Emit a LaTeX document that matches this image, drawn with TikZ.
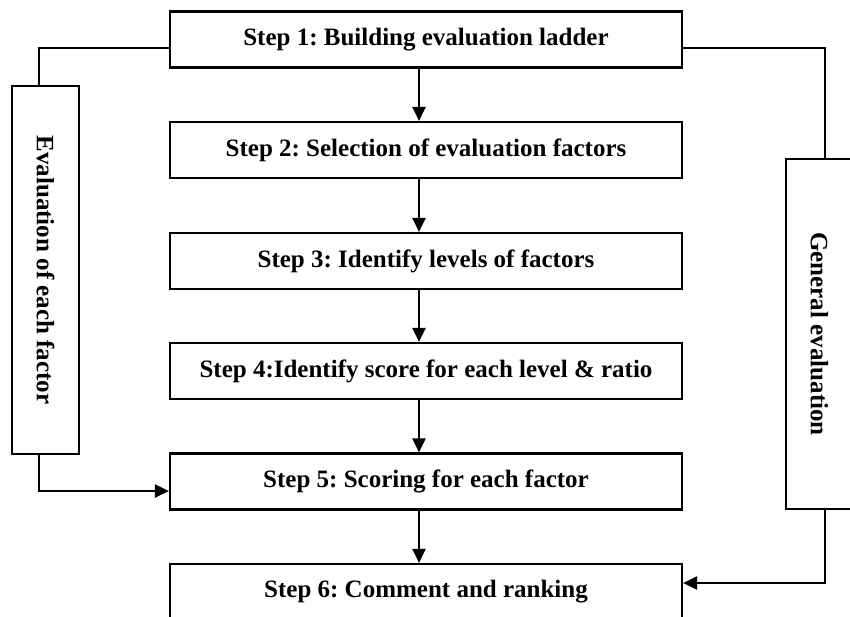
\documentclass[tikz,border=0pt]{standalone}
\usepackage{fontspec}
\setmainfont{Liberation Serif}
\usetikzlibrary{arrows.meta}
\frenchspacing
\begin{document}
\begin{tikzpicture}[x=1pt,y=-1pt,
  txt/.style={font=\bfseries\fontsize{25}{30}\selectfont},
  stepbox/.style={txt,draw,line width=2.2pt,minimum width=512pt,minimum height=56pt,inner sep=0pt,fill=white},
  sidebox/.style={txt,draw,line width=2.2pt,minimum width=67pt,inner sep=0pt,fill=white},
  conn/.style={line width=2.2pt},
  arr/.style={conn,-{Triangle[length=14pt,width=13pt]}}]
\useasboundingbox (0,0) rectangle (850,616);
\node[stepbox] (s1) at (426,39.5) {Step 1: Building evaluation ladder};
\node[stepbox] (s2) at (426,150) {Step 2: Selection of evaluation factors};
\node[stepbox] (s3) at (426,261) {Step 3: Identify levels of factors};
\node[stepbox] (s4) at (426,371) {Step 4:Identify score for each level \& ratio};
\node[stepbox] (s5) at (426,481.5) {Step 5: Scoring for each factor};
\node[stepbox] (s6) at (426,592) {Step 6: Comment and ranking};
\node[sidebox,minimum height=368pt] (ev) at (45.5,270) {\rotatebox{-90}{Evaluation of each factor}};
\node[sidebox,minimum height=350pt] (ge) at (819.5,334) {\rotatebox{-90}{General evaluation}};
\foreach \a/\b in {s1/s2,s2/s3,s3/s4,s4/s5,s5/s6}
  \draw[arr] ([xshift=-7pt]\a.south) -- ([xshift=-7pt]\b.north);
\draw[conn] ([yshift=-8.5pt]s1.west) -| ([xshift=-6.5pt]ev.north);
\draw[arr] ([xshift=-6.5pt]ev.south) |- ([yshift=-9.5pt]s5.west);
\draw[conn] ([yshift=-8.5pt]s1.east) -| ([xshift=5.5pt]ge.north);
\draw[arr] ([xshift=5.5pt]ge.south) |- ([yshift=9pt]s6.east);
\end{tikzpicture}
\end{document}
